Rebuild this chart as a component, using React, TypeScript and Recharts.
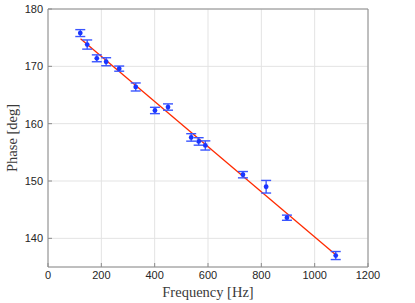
import React from "react";
import {
  ComposedChart,
  Scatter,
  Line,
  XAxis,
  YAxis,
  CartesianGrid,
  ErrorBar,
  ReferenceLine,
} from "recharts";

const freq = [121, 147, 183, 218, 267, 329, 401, 450, 537, 565, 590, 731, 818, 896, 1079];
const phase = [175.8, 173.8, 171.4, 170.8, 169.6, 166.4, 162.3, 162.9, 157.6, 156.9, 156.2, 151.1, 149.0, 143.6, 137.0];
const errs = [0.6, 0.8, 0.6, 0.7, 0.45, 0.7, 0.55, 0.55, 0.65, 0.65, 0.8, 0.55, 1.1, 0.45, 0.7];

const fitFreq = [122, 1080];
const fitPhase = [174.8, 137.1];

const xTicks = [0, 200, 400, 600, 800, 1000, 1200];
const yTicks = [140, 150, 160, 170, 180];

const points = freq.map((f, i) => ({ f, phase: phase[i], err: errs[i] }));
const fitData = fitFreq.map((f, i) => ({ f, phase: fitPhase[i] }));

const BLUE = "#1a35ff";
const AXIS = "#8c8c8c";
const TICKTXT = "#262626";

const Dot = (props: any) => {
  const { cx, cy } = props;
  if (cx == null || cy == null) return null;
  return <circle cx={cx} cy={cy} r={2.4} fill={BLUE} />;
};

export default function App() {
  return (
    <div style={{ position: "absolute", left: 0, top: 0, width: 415, height: 303 }}>
      <ComposedChart
        width={415}
        height={303}
        margin={{ top: 9, right: 47, bottom: 16, left: 0 }}
      >
        <CartesianGrid stroke="#e3e3e3" strokeWidth={1} />
        <XAxis
          type="number"
          dataKey="f"
          domain={[0, 1200]}
          ticks={xTicks}
          allowDataOverflow
          height={20}
          tickSize={-4}
          tickMargin={8}
          stroke={AXIS}
          tick={{ fill: TICKTXT, fontSize: 11, fontFamily: "Liberation Sans, Arial, sans-serif" }}
          label={{
            value: "Frequency [Hz]",
            position: "insideBottom",
            offset: -10,
            fill: "#3a3a3a",
            fontSize: 14.5,
            fontFamily: "Liberation Serif, DejaVu Serif, serif",
          }}
        />
        <YAxis
          type="number"
          domain={[135, 180]}
          ticks={yTicks}
          allowDataOverflow
          width={48}
          tickSize={-4}
          tickMargin={9}
          stroke={AXIS}
          tick={{ fill: TICKTXT, fontSize: 11, fontFamily: "Liberation Sans, Arial, sans-serif" }}
          label={{
            value: "Phase [deg]",
            angle: -90,
            position: "insideLeft",
            offset: 12,
            style: { textAnchor: "middle" },
            fill: "#3a3a3a",
            fontSize: 14.5,
            fontFamily: "Liberation Serif, DejaVu Serif, serif",
          }}
        />
        <ReferenceLine y={180} stroke={AXIS} />
        <ReferenceLine x={1200} stroke={AXIS} />
        <Line
          data={fitData}
          dataKey="phase"
          stroke="#ff2a00"
          strokeWidth={1.3}
          dot={false}
          activeDot={false}
          isAnimationActive={false}
        />
        <Scatter data={points} dataKey="phase" shape={<Dot />} isAnimationActive={false}>
          <ErrorBar dataKey="err" direction="y" width={5} stroke="#3a55ff" strokeWidth={1.4} />
        </Scatter>
      </ComposedChart>
    </div>
  );
}
